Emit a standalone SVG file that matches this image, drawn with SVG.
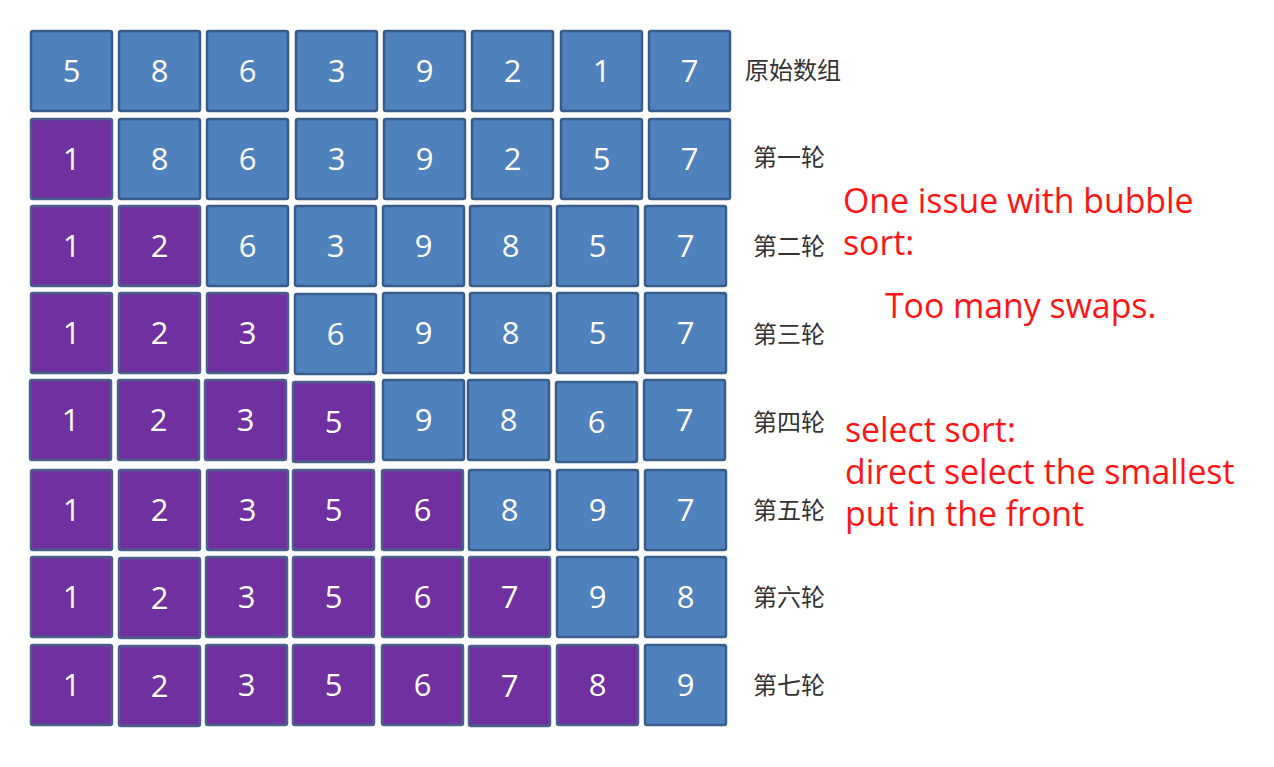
<svg xmlns="http://www.w3.org/2000/svg" width="1274" height="767" viewBox="0 0 1274 767">
<style>
.b{fill:#4F81BD;stroke:#385D8A;stroke-width:2.5}
.p{fill:#7030A0;stroke:#4A5F8A;stroke-width:2.5}
.n{font-family:"Open Sans","Noto Sans",sans-serif;font-size:31px;fill:#fff;text-anchor:middle}
.l{font-family:"Noto Sans CJK SC",sans-serif;font-size:24px;fill:#333}
.r{font-family:"Open Sans","Noto Sans",sans-serif;font-size:33.8px;fill:#FF1414}
</style>
<rect width="1274" height="767" fill="#fff"/>
<g id="row0">
<rect class="b" x="31" y="31" width="81" height="80" rx="2"/><text class="n" x="71.5" y="82">5</text>
<rect class="b" x="119" y="31" width="81" height="80" rx="2"/><text class="n" x="159.5" y="82">8</text>
<rect class="b" x="207" y="31" width="81" height="80" rx="2"/><text class="n" x="247.5" y="82">6</text>
<rect class="b" x="296" y="31" width="81" height="80" rx="2"/><text class="n" x="336.5" y="82">3</text>
<rect class="b" x="384" y="31" width="81" height="80" rx="2"/><text class="n" x="424.5" y="82">9</text>
<rect class="b" x="472" y="31" width="81" height="80" rx="2"/><text class="n" x="512.5" y="82">2</text>
<rect class="b" x="561" y="31" width="81" height="80" rx="2"/><text class="n" x="601.5" y="82">1</text>
<rect class="b" x="649" y="31" width="81" height="80" rx="2"/><text class="n" x="689.5" y="82">7</text>
<text class="l" x="745" y="79">原始数组</text>
</g>
<g id="row1">
<rect class="p" x="31" y="119" width="81" height="80" rx="2"/><text class="n" x="71.5" y="170">1</text>
<rect class="b" x="119" y="119" width="81" height="80" rx="2"/><text class="n" x="159.5" y="170">8</text>
<rect class="b" x="207" y="119" width="81" height="80" rx="2"/><text class="n" x="247.5" y="170">6</text>
<rect class="b" x="296" y="119" width="81" height="80" rx="2"/><text class="n" x="336.5" y="170">3</text>
<rect class="b" x="384" y="119" width="81" height="80" rx="2"/><text class="n" x="424.5" y="170">9</text>
<rect class="b" x="472" y="119" width="81" height="80" rx="2"/><text class="n" x="512.5" y="170">2</text>
<rect class="b" x="561" y="119" width="81" height="80" rx="2"/><text class="n" x="601.5" y="170">5</text>
<rect class="b" x="649" y="119" width="81" height="80" rx="2"/><text class="n" x="689.5" y="170">7</text>
<text class="l" x="753" y="166">第一轮</text>
</g>
<g id="row2">
<rect class="p" x="31" y="206" width="81" height="80" rx="2"/><text class="n" x="71.5" y="257">1</text>
<rect class="p" x="119" y="206" width="81" height="80" rx="2"/><text class="n" x="159.5" y="257">2</text>
<rect class="b" x="207" y="206" width="81" height="80" rx="2"/><text class="n" x="247.5" y="257">6</text>
<rect class="b" x="295" y="206" width="81" height="80" rx="2"/><text class="n" x="335.5" y="257">3</text>
<rect class="b" x="383" y="206" width="81" height="80" rx="2"/><text class="n" x="423.5" y="257">9</text>
<rect class="b" x="470" y="206" width="81" height="80" rx="2"/><text class="n" x="510.5" y="257">8</text>
<rect class="b" x="557" y="206" width="81" height="80" rx="2"/><text class="n" x="597.5" y="257">5</text>
<rect class="b" x="645" y="206" width="81" height="80" rx="2"/><text class="n" x="685.5" y="257">7</text>
<text class="l" x="753" y="255">第二轮</text>
</g>
<g id="row3">
<rect class="p" x="31" y="293" width="81" height="80" rx="2"/><text class="n" x="71.5" y="344">1</text>
<rect class="p" x="119" y="293" width="81" height="80" rx="2"/><text class="n" x="159.5" y="344">2</text>
<rect class="p" x="207" y="293" width="81" height="80" rx="2"/><text class="n" x="247.5" y="344">3</text>
<rect class="b" x="295" y="294" width="81" height="80" rx="2"/><text class="n" x="335.5" y="345">6</text>
<rect class="b" x="383" y="293" width="81" height="80" rx="2"/><text class="n" x="423.5" y="344">9</text>
<rect class="b" x="470" y="293" width="81" height="80" rx="2"/><text class="n" x="510.5" y="344">8</text>
<rect class="b" x="557" y="293" width="81" height="80" rx="2"/><text class="n" x="597.5" y="344">5</text>
<rect class="b" x="645" y="293" width="81" height="80" rx="2"/><text class="n" x="685.5" y="344">7</text>
<text class="l" x="753" y="343">第三轮</text>
</g>
<g id="row4">
<rect class="p" x="30" y="380" width="81" height="80" rx="2"/><text class="n" x="70.5" y="431">1</text>
<rect class="p" x="118" y="380" width="81" height="80" rx="2"/><text class="n" x="158.5" y="431">2</text>
<rect class="p" x="205" y="380" width="81" height="80" rx="2"/><text class="n" x="245.5" y="431">3</text>
<rect class="p" x="293" y="382" width="81" height="80" rx="2"/><text class="n" x="333.5" y="433">5</text>
<rect class="b" x="383" y="380" width="81" height="80" rx="2"/><text class="n" x="423.5" y="431">9</text>
<rect class="b" x="468" y="380" width="81" height="80" rx="2"/><text class="n" x="508.5" y="431">8</text>
<rect class="b" x="556" y="382" width="81" height="80" rx="2"/><text class="n" x="596.5" y="433">6</text>
<rect class="b" x="644" y="380" width="81" height="80" rx="2"/><text class="n" x="684.5" y="431">7</text>
<text class="l" x="753" y="431">第四轮</text>
</g>
<g id="row5">
<rect class="p" x="31" y="470" width="81" height="80" rx="2"/><text class="n" x="71.5" y="521">1</text>
<rect class="p" x="119" y="470" width="81" height="80" rx="2"/><text class="n" x="159.5" y="521">2</text>
<rect class="p" x="207" y="470" width="81" height="80" rx="2"/><text class="n" x="247.5" y="521">3</text>
<rect class="p" x="293" y="470" width="81" height="80" rx="2"/><text class="n" x="333.5" y="521">5</text>
<rect class="p" x="382" y="470" width="81" height="80" rx="2"/><text class="n" x="422.5" y="521">6</text>
<rect class="b" x="469" y="470" width="81" height="80" rx="2"/><text class="n" x="509.5" y="521">8</text>
<rect class="b" x="557" y="470" width="81" height="80" rx="2"/><text class="n" x="597.5" y="521">9</text>
<rect class="b" x="645" y="470" width="81" height="80" rx="2"/><text class="n" x="685.5" y="521">7</text>
<text class="l" x="753" y="519">第五轮</text>
</g>
<g id="row6">
<rect class="p" x="31" y="557" width="81" height="80" rx="2"/><text class="n" x="71.5" y="608">1</text>
<rect class="p" x="119" y="558" width="81" height="80" rx="2"/><text class="n" x="159.5" y="609">2</text>
<rect class="p" x="206" y="557" width="81" height="80" rx="2"/><text class="n" x="246.5" y="608">3</text>
<rect class="p" x="293" y="557" width="81" height="80" rx="2"/><text class="n" x="333.5" y="608">5</text>
<rect class="p" x="382" y="557" width="81" height="80" rx="2"/><text class="n" x="422.5" y="608">6</text>
<rect class="p" x="469" y="557" width="81" height="80" rx="2"/><text class="n" x="509.5" y="608">7</text>
<rect class="b" x="557" y="557" width="81" height="80" rx="2"/><text class="n" x="597.5" y="608">9</text>
<rect class="b" x="645" y="557" width="81" height="80" rx="2"/><text class="n" x="685.5" y="608">8</text>
<text class="l" x="753" y="606">第六轮</text>
</g>
<g id="row7">
<rect class="p" x="31" y="645" width="81" height="80" rx="2"/><text class="n" x="71.5" y="696">1</text>
<rect class="p" x="119" y="646" width="81" height="80" rx="2"/><text class="n" x="159.5" y="697">2</text>
<rect class="p" x="206" y="645" width="81" height="80" rx="2"/><text class="n" x="246.5" y="696">3</text>
<rect class="p" x="293" y="645" width="81" height="80" rx="2"/><text class="n" x="333.5" y="696">5</text>
<rect class="p" x="382" y="645" width="81" height="80" rx="2"/><text class="n" x="422.5" y="696">6</text>
<rect class="p" x="469" y="646" width="81" height="80" rx="2"/><text class="n" x="509.5" y="697">7</text>
<rect class="p" x="557" y="645" width="81" height="80" rx="2"/><text class="n" x="597.5" y="696">8</text>
<rect class="b" x="645" y="645" width="81" height="80" rx="2"/><text class="n" x="685.5" y="696">9</text>
<text class="l" x="753" y="694">第七轮</text>
</g>
<g id="notes">
<text class="r" x="843" y="213">One issue with bubble</text>
<text class="r" x="843" y="255">sort:</text>
<text class="r" x="885" y="318">Too many swaps.</text>
<text class="r" x="845" y="442">select sort:</text>
<text class="r" x="845" y="484">direct select the smallest</text>
<text class="r" x="845" y="526">put in the front</text>
</g>
</svg>
